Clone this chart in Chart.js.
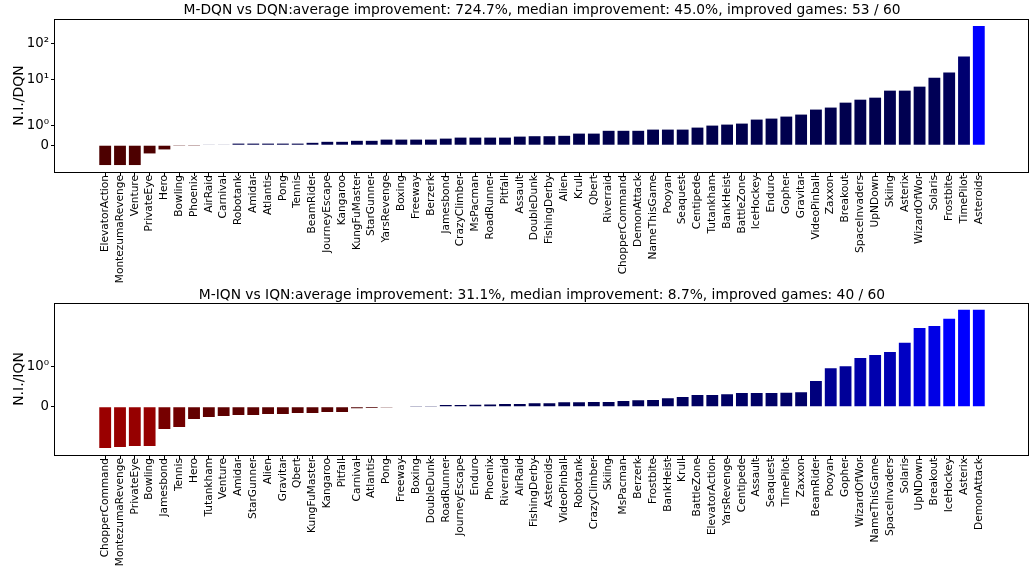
<!DOCTYPE html>
<html>
<head>
<meta charset="utf-8">
<script src="https://cdn.jsdelivr.net/npm/chart.js@4"></script>
<style>
html,body{margin:0;padding:0;background:#fff;}
canvas{display:block;}
</style>
</head>
<body>
<canvas id="c1" width="1032" height="286"></canvas>
<canvas id="c2" width="1032" height="289"></canvas>
<script>
// ---------- data ----------
const dqnGames = ['ElevatorAction','MontezumaRevenge','Venture','PrivateEye','Hero','Bowling','Phoenix','AirRaid','Carnival','Robotank','Amidar','Atlantis','Pong','Tennis','BeamRider','JourneyEscape','Kangaroo','KungFuMaster','StarGunner','YarsRevenge','Boxing','Freeway','Berzerk','Jamesbond','CrazyClimber','MsPacman','RoadRunner','Pitfall','Assault','DoubleDunk','FishingDerby','Alien','Krull','Qbert','Riverraid','ChopperCommand','DemonAttack','NameThisGame','Pooyan','Seaquest','Centipede','Tutankham','BankHeist','BattleZone','IceHockey','Enduro','Gopher','Gravitar','VideoPinball','Zaxxon','Breakout','SpaceInvaders','UpNDown','Skiing','Asterix','WizardOfWor','Solaris','Frostbite','TimePilot','Asteroids'];
const dqnValues = [-0.99,-0.99,-0.99,-0.41,-0.21,-0.04,-0.01,0.02,0.02,0.08,0.08,0.08,0.08,0.08,0.12,0.17,0.17,0.22,0.22,0.28,0.28,0.28,0.28,0.33,0.38,0.38,0.38,0.38,0.43,0.45,0.45,0.47,0.58,0.58,0.72,0.72,0.72,0.78,0.78,0.78,0.88,0.98,1.03,1.08,1.28,1.33,1.43,1.53,1.78,1.88,2.35,2.84,3.23,5.06,5.06,6.53,11.6,16.0,44.5,316];
const dqnTickValues = [0, 1, 10, 100];
const dqnTickLabels = ['0', '10⁰', '10¹', '10²'];
const dqnTitle = 'M-DQN vs DQN:average improvement: 724.7%, median improvement: 45.0%, improved games: 53 / 60';
const dqnYLabel = 'N.I./DQN';

const iqnGames = ['ChopperCommand','MontezumaRevenge','PrivateEye','Bowling','Jamesbond','Tennis','Hero','Tutankham','Venture','Amidar','StarGunner','Alien','Gravitar','Qbert','KungFuMaster','Kangaroo','Pitfall','Carnival','Atlantis','Pong','Freeway','Boxing','DoubleDunk','RoadRunner','JourneyEscape','Enduro','Phoenix','Riverraid','AirRaid','FishingDerby','Asteroids','VideoPinball','Robotank','CrazyClimber','Skiing','MsPacman','Berzerk','Frostbite','BankHeist','Krull','BattleZone','ElevatorAction','YarsRevenge','Centipede','Assault','Seaquest','TimePilot','Zaxxon','BeamRider','Pooyan','Gopher','WizardOfWor','NameThisGame','SpaceInvaders','Solaris','UpNDown','Breakout','IceHockey','Asterix','DemonAttack'];
const iqnValues = [-1.03,-1.0,-0.98,-0.98,-0.555,-0.505,-0.305,-0.255,-0.23,-0.205,-0.205,-0.18,-0.18,-0.155,-0.155,-0.13,-0.13,-0.04,-0.035,-0.01,0.01,0.015,0.02,0.04,0.045,0.05,0.055,0.065,0.07,0.085,0.089,0.11,0.11,0.115,0.12,0.14,0.16,0.165,0.21,0.24,0.29,0.29,0.31,0.34,0.34,0.34,0.345,0.36,0.64,0.96,1.01,1.21,1.29,1.36,1.59,1.96,2.03,2.54,3.39,3.39];
const iqnTickValues = [0, 1];
const iqnTickLabels = ['0', '10⁰'];
const iqnTitle = 'M-IQN vs IQN:average improvement: 31.1%, median improvement: 8.7%, improved games: 40 / 60';
const iqnYLabel = 'N.I./IQN';

// ---------- symlog scale (linthresh 2, linscale 1, base 10) ----------
const LINTHRESH = 2;
const LINSCALE_ADJ = 1 / (1 - 1 / 10);
function symT(v) {
  const a = Math.abs(v);
  return a <= LINTHRESH ? v * LINSCALE_ADJ : Math.sign(v) * LINTHRESH * (LINSCALE_ADJ + Math.log10(a / LINTHRESH));
}
function symInv(t) {
  const a = Math.abs(t);
  const th = LINTHRESH * LINSCALE_ADJ;
  return a <= th ? t / LINSCALE_ADJ : Math.sign(t) * LINTHRESH * Math.pow(10, a / LINTHRESH - LINSCALE_ADJ);
}
class SymlogScale extends Chart.LinearScale {
  determineDataLimits() {
    super.determineDataLimits();
    const lo = Math.min(this.min, 0), hi = Math.max(this.max, 0);
    const tmin = symT(lo), tmax = symT(hi);
    const m = (tmax - tmin) * 0.05;
    this.min = symInv(tmin - m);
    this.max = symInv(tmax + m);
  }
  buildTicks() { return []; }
  configure() {
    super.configure();
    this._tmin = symT(this.min);
    this._tmax = symT(this.max);
  }
  getPixelForValue(v) {
    return this.getPixelForDecimal((symT(v) - this._tmin) / (this._tmax - this._tmin));
  }
  getValueForPixel(p) {
    return symInv(this._tmin + this.getDecimalForPixel(p) * (this._tmax - this._tmin));
  }
}
SymlogScale.id = 'symlog';
SymlogScale.defaults = Chart.LinearScale.defaults;
Chart.register(SymlogScale);

Chart.defaults.font.family = 'DejaVu Sans';
Chart.defaults.color = '#000';

function barColor(v, vmax) {
  const k = Math.min(1, 0.3 + Math.abs(v) / vmax);
  const c = Math.round(255 * k);
  return v < 0 ? `rgb(${c},0,0)` : `rgb(0,0,${c})`;
}

const framePlugin = {
  id: 'frame',
  afterDraw(chart) {
    const { ctx, chartArea: a } = chart;
    ctx.save();
    ctx.strokeStyle = '#000';
    ctx.lineWidth = 1;
    ctx.strokeRect(Math.round(a.left) - 0.5, Math.round(a.top) + 0.5,
                   Math.round(a.right - a.left), Math.round(a.bottom - a.top));
    ctx.restore();
  }
};

const BAR_W = 0.8;

function makeChart(id, games, values, tickVals, tickLabs, yLabel, title, titlePad, xAxisHeight) {
  const vmax = Math.max(...values.map(Math.abs));
  const n = games.length;
  const margin = 0.05 * (n - 1 + BAR_W);
  new Chart(document.getElementById(id), {
    type: 'bar',
    data: {
      datasets: [{
        data: values.map((v, i) => ({ x: i, y: v })),
        backgroundColor: values.map(v => barColor(v, vmax)),
        borderWidth: 0,
        barPercentage: BAR_W,
        categoryPercentage: 1.0
      }]
    },
    options: {
      responsive: false,
      animation: false,
      devicePixelRatio: 1,
      layout: { padding: { left: 0, right: 3, top: 0, bottom: 0 } },
      plugins: {
        legend: { display: false },
        tooltip: { enabled: false },
        title: {
          display: true, text: title, color: '#000', fullSize: false,
          font: { size: 13.8, weight: 'normal', lineHeight: 1.15 },
          padding: titlePad
        }
      },
      scales: {
        x: {
          type: 'linear',
          offset: false,
          min: -BAR_W / 2 - margin,
          max: n - 1 + BAR_W / 2 + margin,
          afterBuildTicks: s => { s.ticks = games.map((g, i) => ({ value: i })); },
          afterFit: s => { s.height = xAxisHeight; },
          ticks: {
            autoSkip: false, minRotation: 90, maxRotation: 90,
            callback: v => games[v],
            font: { size: 10.6 }, color: '#000', padding: -1
          },
          grid: { offset: false, drawOnChartArea: false, drawTicks: true, tickLength: 4, color: '#000' },
          border: { display: false }
        },
        y: {
          type: 'symlog',
          afterBuildTicks: s => { s.ticks = tickVals.map(v => ({ value: v })); },
          afterFit: s => { s.width = 55; },
          ticks: {
            callback: v => tickLabs[tickVals.indexOf(v)],
            font: { size: 13.3 }, color: '#000', padding: 2
          },
          grid: { drawOnChartArea: false, drawTicks: true, tickLength: 4, color: '#000' },
          border: { display: false },
          title: {
            display: true, text: yLabel, color: '#000',
            font: { size: 14, lineHeight: 1.2 },
            padding: { top: 10.5, bottom: 0 }
          }
        }
      }
    },
    plugins: [framePlugin]
  });
}

makeChart('c1', dqnGames, dqnValues, dqnTickValues, dqnTickLabels, dqnYLabel, dqnTitle, { top: 2, bottom: 1.1 }, 114);
makeChart('c2', iqnGames, iqnValues, iqnTickValues, iqnTickLabels, iqnYLabel, iqnTitle, { top: 1, bottom: 0 }, 120);
</script>
</body>
</html>
